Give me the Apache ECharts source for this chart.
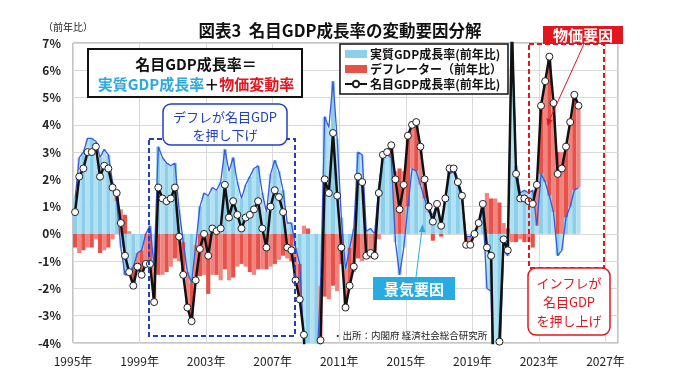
<!DOCTYPE html>
<html><head><meta charset="utf-8">
<script src="https://cdn.jsdelivr.net/npm/echarts@6/dist/echarts.min.js"></script>
<style>html,body{margin:0;padding:0;background:#fff}#c{width:680px;height:382px}</style>
</head><body><div id="c"></div>
<script>
// ---- data (quarterly, year-on-year %, 1995Q1 .. 2025Q2) ----
const startYear = 1995;
const tickYears = [1995, 1999, 2003, 2007, 2011, 2015, 2019, 2023, 2027];
const nominal = [
 0.8, 2.1, 2.4, 3.0, 3.0, 3.2, 2.1, 2.5, 2.4, 1.7, 1.5, 0.4,
 -0.8, -1.4, -1.9, -1.2, -1.5, -1.1, -1.1, -2.5,
 1.7, 1.3, 1.2, 1.3, 1.7, -0.1, -1.5, -2.7, -3.2, -1.7,
 -0.55, 0.0, -0.8, 0.2, 0.1, 0.2, 1.8, 0.6, 1.2, 0.7,
 0.2, 0.6, 0.7, 0.9, 1.2, 0.2, -0.5, 1.0, 1.6, 1.35,
 0.8, -0.5, -0.6, -1.7, -2.4, -3.7, -8.4, -6.8, -6.1, -3.9,
 2.0, 1.5, 3.7, 1.4, -0.5, -2.7, -1.9, -1.2, 2.1, 1.9,
 -0.8, -0.7, -0.8, 1.5, 2.9, 3.0, 3.25, 2.0, 0.9, 1.8,
 3.6, 4.0, 4.1, 3.2, 2.0, 1.0, 0.45, 1.1, 0.3, 1.3,
 2.4, 2.4, 1.9, 1.4, -0.4, -0.4, 0.0, 0.4, 1.1, -0.5,
 -0.8, -8.7, -3.95, -0.2, -0.6, 7.5, 2.2, 1.3, 1.3, 1.2,
 1.1, 1.8, 4.7, 5.6, 6.5, 4.8, 2.2, 2.4, 3.2, 4.1,
 5.1, 4.7
];
const real = [
 1.3, 2.8, 3.0, 3.5, 3.5, 3.4, 2.8, 3.1, 2.9, 1.9, 1.2, -0.5,
 -1.5, -1.5, -1.2, -0.7, -0.6, 0.0, 0.3, -1.2,
 3.2, 2.8, 2.6, 2.5, 2.6, 0.9, -0.3, -1.4, -1.8, -0.4,
 1.0, 1.5, 1.4, 1.7, 1.6, 1.9, 3.1, 2.3, 2.8, 1.9,
 1.3, 1.8, 2.1, 2.4, 2.5, 1.5, 0.8, 2.2, 2.7, 2.3,
 1.6, 0.4, 0.4, -0.5, -1.1, -4.0, -8.6, -6.3, -5.2, -1.9,
 4.3, 3.9, 5.6, 3.5, 0.6, -1.3, -0.5, 0.2, 3.0, 2.9,
 0.1, 0.2, 0.0, 1.7, 2.9, 2.9, 2.8, -0.3, -1.5, -0.5,
 1.0, 2.4, 2.3, 1.8, 1.3, 0.8, 0.7, 1.1, 0.4, 1.3,
 2.2, 2.3, 1.8, 1.3, -0.1, -0.1, 0.1, 0.35, 0.9, -2.0,
 -2.1, -10.0, -5.1, -0.6, -0.8, 7.8, 2.5, 1.5, 1.6, 1.5,
 1.6, 0.3, 2.2, 1.9, 1.4, 0.8, -0.8, -0.6, 0.6, 1.0,
 1.6, 1.7
];
const deflator = [
 -0.5, -0.7, -0.6, -0.5, -0.5, -0.2, -0.7, -0.6, -0.5, -0.2, 0.3, 0.9,
 0.7, 0.1, -0.7, -0.5, -0.9, -1.1, -1.4, -1.3,
 -1.5, -1.5, -1.4, -1.2, -0.9, -1.0, -1.2, -1.3, -1.4, -1.3,
 -1.55, -1.5, -2.2, -1.5, -1.5, -1.7, -1.3, -1.7, -1.6, -1.2,
 -1.1, -1.2, -1.4, -1.5, -1.3, -1.3, -1.3, -1.2, -1.1, -0.95,
 -0.8, -0.9, -1.0, -1.2, -1.3, 0.3, 0.2, -0.5, -0.9, -2.0,
 -2.3, -2.4, -1.9, -2.1, -1.1, -1.4, -1.4, -1.4, -0.9, -1.0,
 -0.9, -0.9, -0.8, -0.2, 0.0, 0.1, 0.45, 2.3, 2.4, 2.3,
 2.6, 1.6, 1.8, 1.4, 0.7, 0.2, -0.25, 0.0, -0.1, 0.0,
 0.2, 0.1, 0.1, 0.1, -0.3, -0.3, -0.1, 0.05, 0.2, 1.5,
 1.3, 1.3, 1.15, 0.4, 0.2, -0.3, -0.3, -0.2, -0.3, -0.3,
 -0.5, 1.5, 2.5, 3.7, 5.1, 4.0, 3.0, 3.0, 2.6, 3.1,
 3.5, 3.0
];
const names = ['実質GDP成長率(前年比)', 'デフレーター（前年比）', '名目GDP成長率(前年比)'];

// ---- build ----
const FONT = '"Noto Sans CJK JP", "Noto Sans", sans-serif';
const axisQuarters = 131; // axis runs 1995Q1 .. 2027Q3
const quarters = Array.from({ length: axisQuarters }, (_, i) => (startYear + Math.floor(i / 4)) + 'Q' + (i % 4 + 1));
const realBars = real.map((v, i) => ({ value: v, itemStyle: { color: i % 2 ? '#b3e1f4' : '#8ccfeb' } }));
const deflBars = deflator.map((v, i) => ({ value: v, itemStyle: { color: i % 2 ? '#f0847e' : '#e8504a' } }));

const chart = echarts.init(document.getElementById('c'), null, { renderer: 'canvas' });
const blue = '#1f3fc8', red = '#e3161e', cyan = '#29abe2';
const txt = (x, y, s, o) => ({ type: 'text', x, y, z: 100, style: Object.assign({ text: s, font: '13px ' + FONT, fill: '#111', textAlign: 'center', textVerticalAlign: 'middle' }, o || {}) });

chart.setOption({
  animation: false,
  textStyle: { fontFamily: FONT },
  title: { text: '図表3  名目GDP成長率の変動要因分解', left: 'center', top: 22, padding: 0,
    textStyle: { fontSize: 16.5, fontWeight: 'bold', color: '#111', fontFamily: FONT } },
  grid: { left: 73, right: 62, top: 43, bottom: 39, show: true, borderColor: '#8a8a8a', borderWidth: 1 },
  legend: {
    orient: 'vertical', left: 340, top: 44, padding: [4, 6, 4, 4], itemGap: 3,
    borderColor: '#111', borderWidth: 1.5, backgroundColor: '#fff', z: 50,
    itemWidth: 22, itemHeight: 8,
    textStyle: { fontSize: 12, fontWeight: 'bold', color: '#111', fontFamily: FONT, padding: [0, 0, 0, -2] },
    data: [{ name: names[0], icon: 'rect' }, { name: names[1], icon: 'rect' }, { name: names[2] }]
  },
  xAxis: [
    { type: 'category', data: quarters, boundaryGap: true, show: false },
    { type: 'value', min: 0, max: 32.75, interval: 4, position: 'bottom',
      axisLine: { show: false }, axisTick: { show: false },
      splitLine: { show: true, lineStyle: { color: '#d9d9d9' } },
      axisLabel: { margin: 12, fontSize: 12, color: '#222', fontFamily: FONT,
        formatter: v => tickYears.indexOf(startYear + v) >= 0 ? (startYear + v) + '年' : '' } }
  ],
  yAxis: {
    type: 'value', min: -4, max: 7, interval: 1,
    axisLine: { show: false }, axisTick: { show: false },
    splitLine: { lineStyle: { color: '#d9d9d9' } },
    axisLabel: { margin: 12, fontSize: 12, fontWeight: 'bold', color: '#222', fontFamily: FONT, formatter: '{value}%' }
  },
  series: [
    { name: names[0], type: 'bar', stack: 'g', barWidth: '100%', barCategoryGap: '0%', data: realBars, itemStyle: { color: '#8ccfeb' }, clip: true },
    { name: names[1], type: 'bar', stack: 'g', barWidth: '100%', barCategoryGap: '0%', data: deflBars, itemStyle: { color: '#e8504a' }, clip: true },
    { name: 'realLine', type: 'line', data: real, showSymbol: false, symbol: 'none', clip: true,
      lineStyle: { color: '#3b57dc', width: 1.3 }, itemStyle: { color: '#3b57dc' }, z: 3 },
    { name: names[2], type: 'line', data: nominal, clip: true, symbol: 'circle', symbolSize: 7, showAllSymbol: true, z: 4,
      lineStyle: { color: '#111', width: 2.5 }, itemStyle: { color: '#fff', borderColor: '#222', borderWidth: 1 } }
  ],
  graphic: [
    txt(43, 27, '（前年比）', { font: '10px ' + FONT, textAlign: 'left', fill: '#222' }),
    // left formula box
    { type: 'rect', z: 90, shape: { x: 88, y: 49, width: 214, height: 48 }, style: { fill: '#fff', stroke: '#111', lineWidth: 2 } },
    txt(196, 64, '名目GDP成長率＝', { font: 'bold 15px ' + FONT }),
    { type: 'text', z: 100, x: 196, y: 84, style: { text: '{c|実質GDP成長率}{k|＋}{r|物価変動率}', textAlign: 'center', textVerticalAlign: 'middle',
      rich: { c: { fill: '#2aa9df', font: 'bold 15px ' + FONT }, k: { fill: '#111', font: 'bold 15px ' + FONT }, r: { fill: red, font: 'bold 15px ' + FONT } } } },
    // blue deflation annotation
    { type: 'rect', z: 90, shape: { x: 149, y: 139, width: 146, height: 197 }, style: { fill: 'none', stroke: blue, lineWidth: 2, lineDash: [5, 3] } },
    { type: 'rect', z: 91, shape: { x: 163, y: 104, width: 124, height: 41, r: 8 }, style: { fill: '#fff', stroke: blue, lineWidth: 1.5 } },
    txt(225, 117, 'デフレが名目GDP', { fill: blue }),
    txt(225, 135, 'を押し下げ', { fill: blue }),
    // business-cycle factor
    { type: 'line', z: 90, shape: { x1: 416, y1: 277, x2: 422, y2: 229 }, style: { stroke: cyan, lineWidth: 1 } },
    { type: 'polygon', z: 90, shape: { points: [[422.5, 224], [419, 232], [425.5, 232]] }, style: { fill: cyan } },
    { type: 'rect', z: 91, shape: { x: 373, y: 277, width: 82, height: 23 }, style: { fill: cyan } },
    txt(414, 289, '景気要因', { font: 'bold 15px ' + FONT, fill: '#fff' }),
    // price factor
    { type: 'rect', z: 90, shape: { x: 529, y: 44, width: 75, height: 224 }, style: { fill: 'none', stroke: red, lineWidth: 2, lineDash: [5, 3] } },
    { type: 'line', z: 90, shape: { x1: 584, y1: 44, x2: 549, y2: 121 }, style: { stroke: red, lineWidth: 1 } },
    { type: 'polygon', z: 90, shape: { points: [[547.5, 126], [546.5, 118], [552.5, 120.5]] }, style: { fill: red } },
    { type: 'rect', z: 91, shape: { x: 543, y: 26, width: 80, height: 18 }, style: { fill: red } },
    txt(583, 35, '物価要因', { font: 'bold 15px ' + FONT, fill: '#fff' }),
    { type: 'rect', z: 91, shape: { x: 528, y: 268, width: 82, height: 67, r: 8 }, style: { fill: '#fff', stroke: red, lineWidth: 1.5 } },
    txt(569, 283, 'インフレが', { fill: red }),
    txt(569, 302, '名目GDP', { fill: red }),
    txt(569, 321, 'を押し上げ', { fill: red }),
    // source
    txt(333, 335, '・出所：内閣府 経済社会総合研究所', { font: '9.5px ' + FONT, textAlign: 'left', fill: '#222' })
  ]
});
</script></body></html>
